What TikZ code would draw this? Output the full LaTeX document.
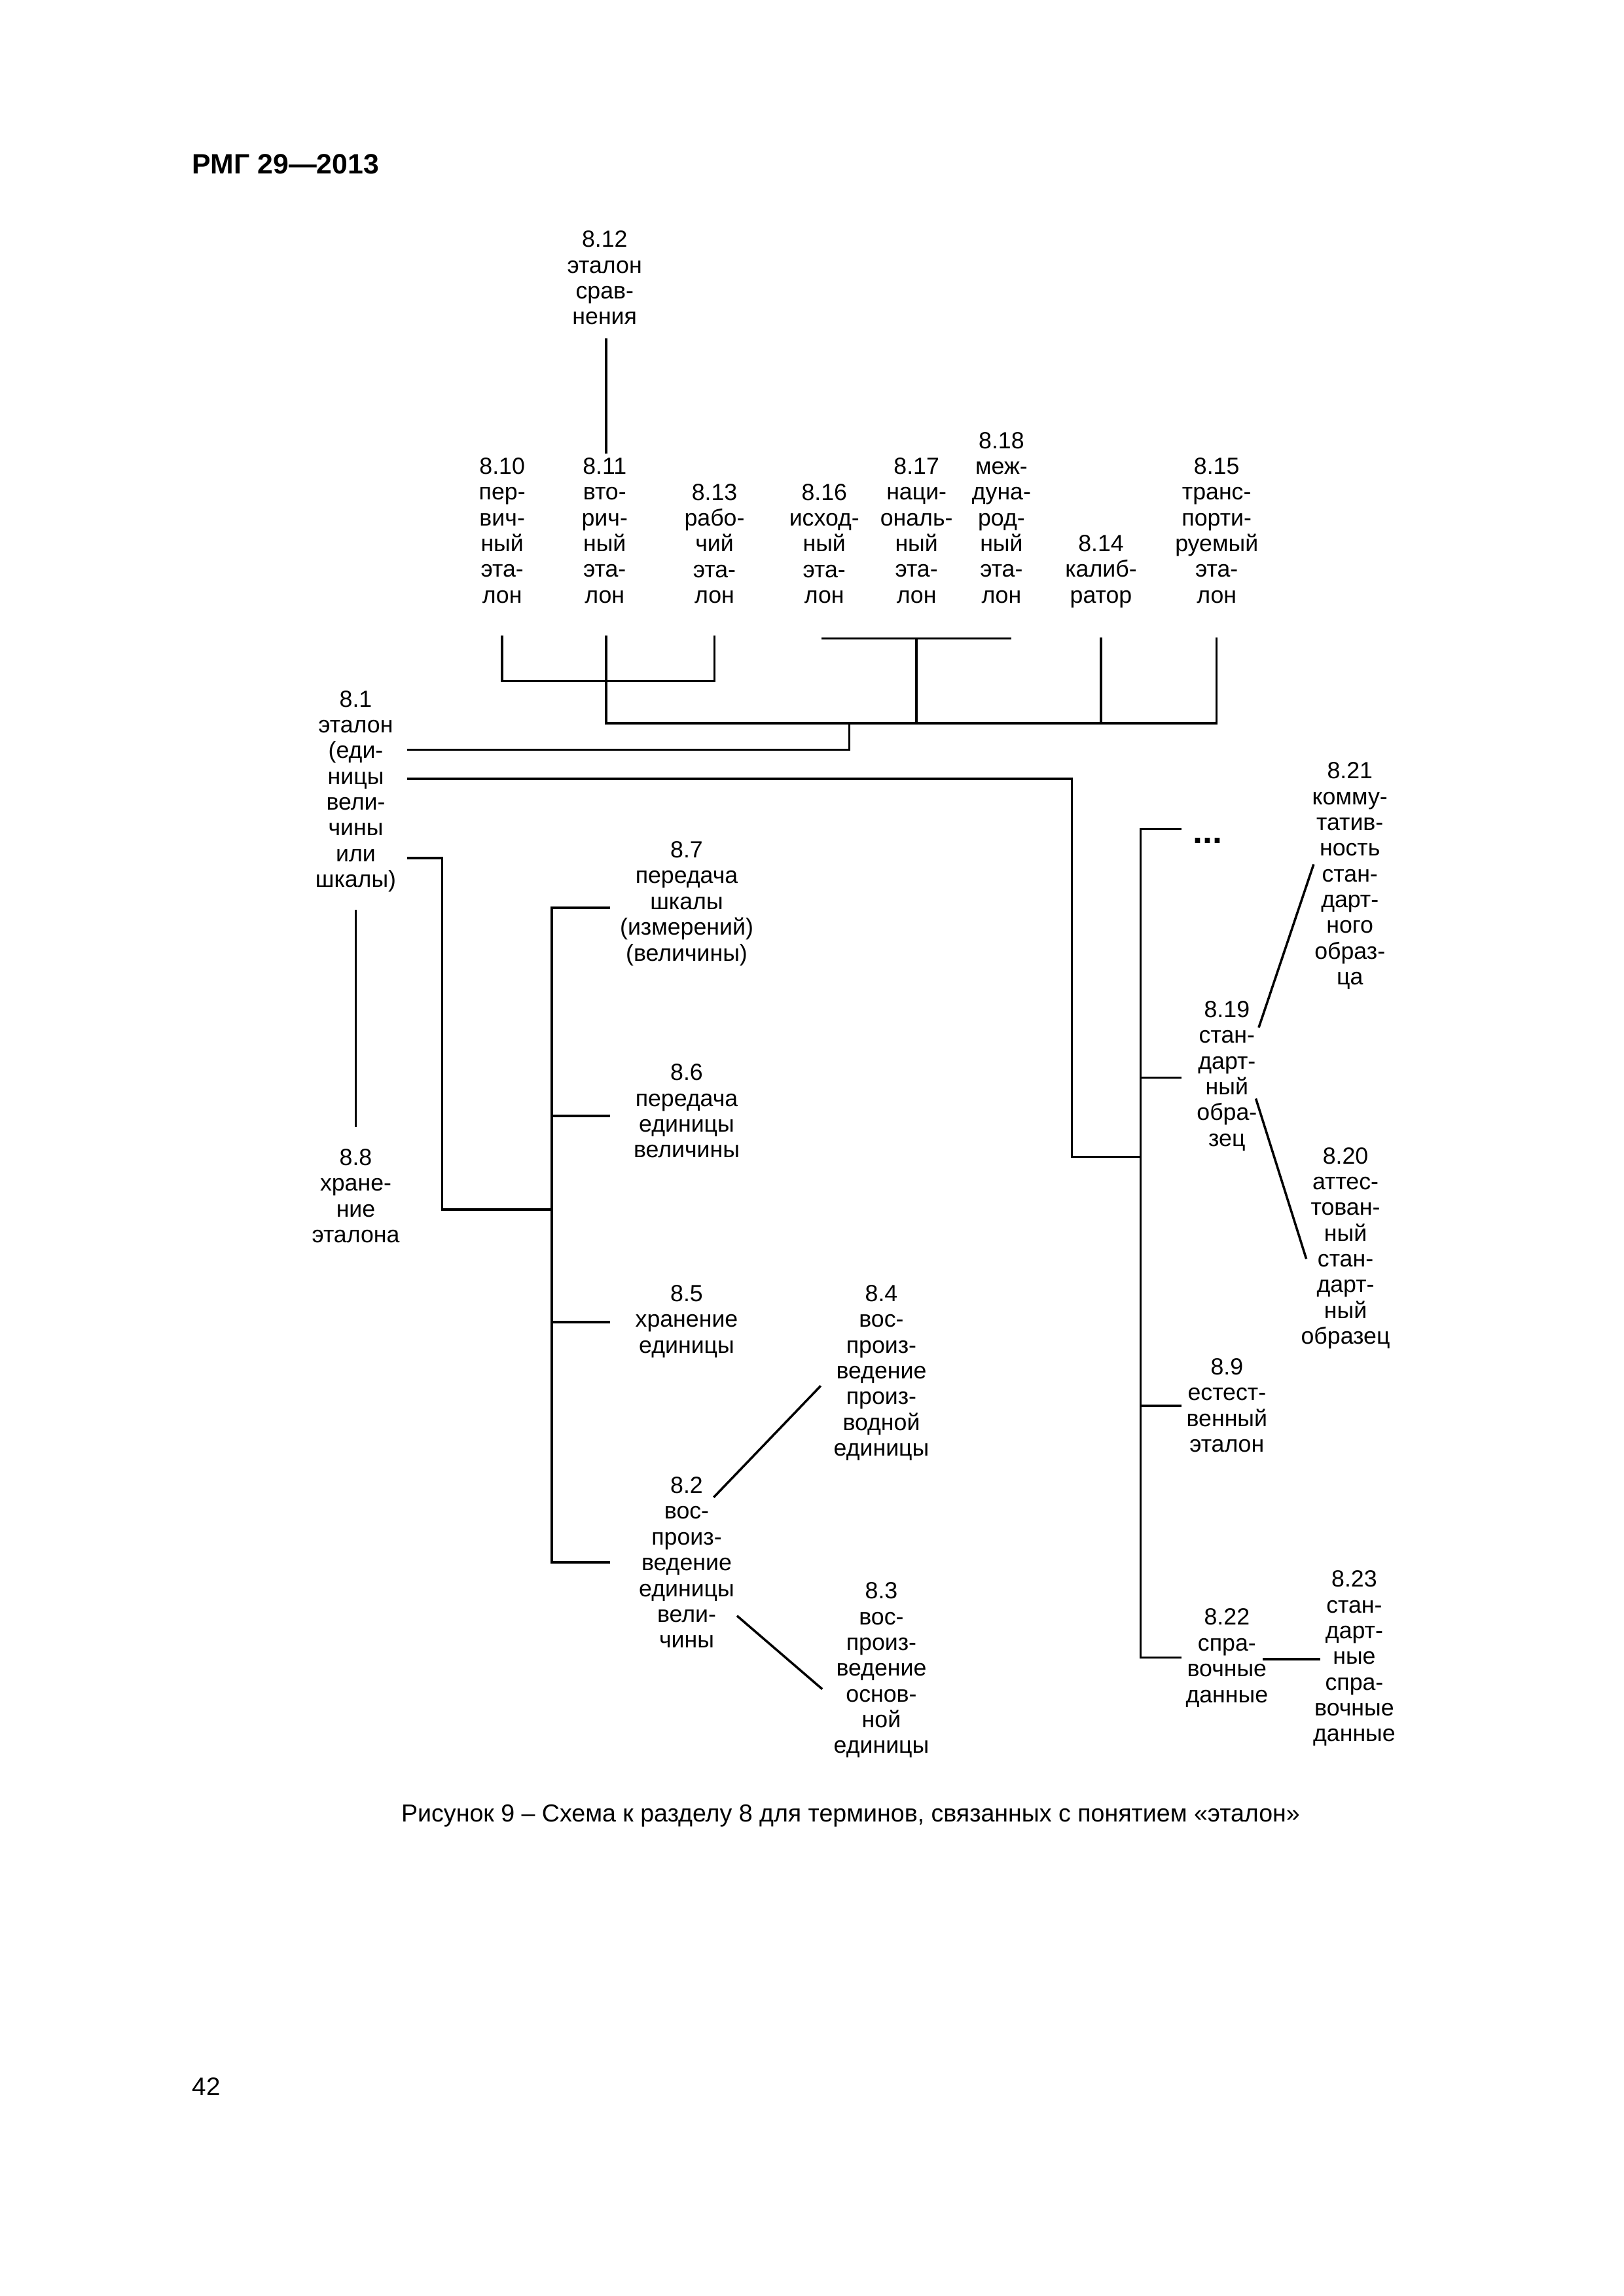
\documentclass[tikz,border=0pt]{standalone}
\usepackage{fontspec}
\setmainfont{Liberation Sans}
\newcommand\termfont{\fontsize{8.6}{9.48}\selectfont}
\begin{document}
\begin{tikzpicture}[x=0.18936mm,y=-0.18941mm,
  term/.style={font=\termfont, align=center, inner sep=0pt, anchor=north},
  conn/.style={line width=0.85pt, line cap=rect}]
\fill[white] (0,0) rectangle (1109,1568);
\useasboundingbox (0,0) rectangle (1109,1568);

% header, caption, page number
\node[anchor=west, inner sep=0pt, font=\bfseries\fontsize{10.3}{12}\selectfont] (hdr) at (131,112) {РМГ 29—2013};
\node[inner sep=0pt, font=\fontsize{9.05}{11}\selectfont] (cap) at (581,1240) {Рисунок 9 – Схема к разделу 8 для терминов, связанных с понятием «эталон»};
\node[inner sep=0pt, font=\fontsize{9.3}{11}\selectfont] (pg) at (141,1425) {42};

% top row
\node[term] (n812) at (413,157.3) {8.12\\эталон\\срав-\\нения};
\node[term] (n810) at (343,312.3) {8.10\\пер-\\вич-\\ный\\эта-\\лон};
\node[term] (n811) at (413,312.3) {8.11\\вто-\\рич-\\ный\\эта-\\лон};
\node[term] (n813) at (488,330.1) {8.13\\рабо-\\чий\\эта-\\лон};
\node[term] (n816) at (563,330.1) {8.16\\исход-\\ный\\эта-\\лон};
\node[term] (n817) at (626,312.3) {8.17\\наци-\\ональ-\\ный\\эта-\\лон};
\node[term] (n818) at (684,294.7) {8.18\\меж-\\дуна-\\род-\\ный\\эта-\\лон};
\node[term] (n814) at (752,365.1) {8.14\\калиб-\\ратор};
\node[term] (n815) at (831,312.3) {8.15\\транс-\\порти-\\руемый\\эта-\\лон};

% left column
\node[term] (n81) at (243,471.3) {8.1\\эталон\\(еди-\\ницы\\вели-\\чины\\или\\шкалы)};
\node[term] (n88) at (243,784.3) {8.8\\хране-\\ние\\эталона};

% left tree
\node[term] (n87) at (469,574.3) {8.7\\передача\\шкалы\\(измерений)\\(величины)};
\node[term] (n86) at (469,726.3) {8.6\\передача\\единицы\\величины};
\node[term] (n85) at (469,877.3) {8.5\\хранение\\единицы};
\node[term] (n82) at (469,1008.3) {8.2\\вос-\\произ-\\ведение\\единицы\\вели-\\чины};
\node[term] (n84) at (602,877.3) {8.4\\вос-\\произ-\\ведение\\произ-\\водной\\единицы};
\node[term] (n83) at (602,1080.3) {8.3\\вос-\\произ-\\ведение\\основ-\\ной\\единицы};

% right tree
\node[inner sep=0pt, font=\bfseries\fontsize{13}{14}\selectfont] (ndots) at (825,574) {...};
\node[term] (n819) at (838,683.3) {8.19\\стан-\\дарт-\\ный\\обра-\\зец};
\node[term] (n821) at (922,520.3) {8.21\\комму-\\татив-\\ность\\стан-\\дарт-\\ного\\образ-\\ца};
\node[term] (n820) at (919,783.3) {8.20\\аттес-\\тован-\\ный\\стан-\\дарт-\\ный\\образец};
\node[term] (n89) at (838,927.3) {8.9\\естест-\\венный\\эталон};
\node[term] (n822) at (838,1098.3) {8.22\\спра-\\вочные\\данные};
\node[term] (n823) at (925,1072.3) {8.23\\стан-\\дарт-\\ные\\спра-\\вочные\\данные};

% coordinates
\coordinate (c812b) at (414,232);
\coordinate (c811t) at (414,309);
\coordinate (c810b) at (343,435);
\coordinate (c810j) at (343,465);
\coordinate (c813j) at (488,465);
\coordinate (c813b) at (488,435);
\coordinate (c811b) at (414,435);
\coordinate (c811j) at (414,494);
\coordinate (c815j) at (831,494);
\coordinate (c815b) at (831,436);
\coordinate (c816b) at (562,436);
\coordinate (c818b) at (690,436);
\coordinate (c817b) at (626,436);
\coordinate (c817j) at (626,494);
\coordinate (c814b) at (752,436);
\coordinate (c814j) at (752,494);
\coordinate (cbj) at (580,494);
\coordinate (cbk) at (580,512);
\coordinate (c81a) at (279,512);
\coordinate (c81b) at (279,532);
\coordinate (crk1) at (732,532);
\coordinate (crk2) at (732,790);
\coordinate (crt) at (779,790);
\coordinate (c81c) at (279,586);
\coordinate (clk1) at (302,586);
\coordinate (clk2) at (302,826);
\coordinate (clt) at (377,826);
\coordinate (c81d) at (243,622);
\coordinate (c88t) at (243,769);
\coordinate (lt1) at (377,620);
\coordinate (lt2) at (377,762);
\coordinate (lt3) at (377,903);
\coordinate (lt4) at (377,1067);
\coordinate (lb1) at (416,620);
\coordinate (lb2) at (416,762);
\coordinate (lb3) at (416,903);
\coordinate (lb4) at (416,1067);
\coordinate (d82a) at (488,1022);
\coordinate (d84) at (560,947);
\coordinate (d82b) at (504,1104);
\coordinate (d83) at (561,1153);
\coordinate (rt1) at (779,566);
\coordinate (rt2) at (779,736);
\coordinate (rt3) at (779,960);
\coordinate (rt4) at (779,1132);
\coordinate (rb1) at (806,566);
\coordinate (rb2) at (806,736);
\coordinate (rb3) at (806,960);
\coordinate (rb4) at (806,1132);
\coordinate (d819a) at (860,701);
\coordinate (d821) at (897,591);
\coordinate (d819b) at (858,751);
\coordinate (d820) at (892,859);
\coordinate (h822) at (863,1133);
\coordinate (h823) at (901,1133);

% connectors
\draw[conn] (c812b) -- (c811t);
\draw[conn] (c810b) -- (c810j) -- (c813j) -- (c813b);
\draw[conn] (c811b) -- (c811j) -- (c815j) -- (c815b);
\draw[conn] (c816b) -- (c818b);
\draw[conn] (c817b) -- (c817j);
\draw[conn] (c814b) -- (c814j);
\draw[conn] (cbj) -- (cbk) -- (c81a);
\draw[conn] (c81b) -- (crk1) -- (crk2) -- (crt);
\draw[conn] (c81c) -- (clk1) -- (clk2) -- (clt);
\draw[conn] (c81d) -- (c88t);
\draw[conn] (lb1) -- (lt1) -- (lt4) -- (lb4);
\draw[conn] (lt2) -- (lb2);
\draw[conn] (lt3) -- (lb3);
\draw[conn] (d82a) -- (d84);
\draw[conn] (d82b) -- (d83);
\draw[conn] (rb1) -- (rt1) -- (rt4) -- (rb4);
\draw[conn] (rt2) -- (rb2);
\draw[conn] (rt3) -- (rb3);
\draw[conn] (d819a) -- (d821);
\draw[conn] (d819b) -- (d820);
\draw[conn] (h822) -- (h823);
\end{tikzpicture}
\end{document}
